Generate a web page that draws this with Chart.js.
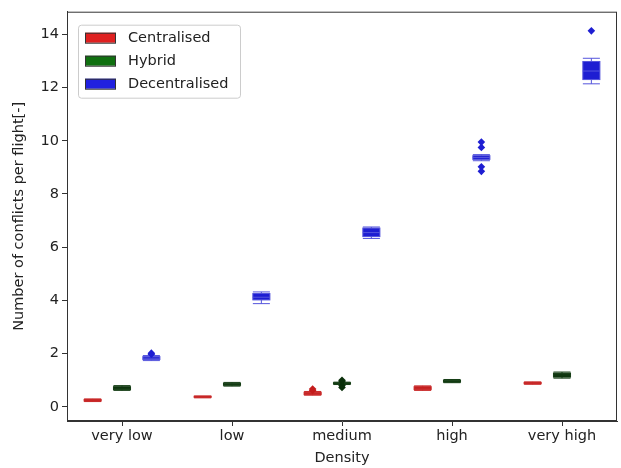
<!DOCTYPE html>
<html>
<head>
<meta charset="utf-8">
<script src="https://cdn.jsdelivr.net/npm/chart.js@4.4.1/dist/chart.umd.min.js"></script>
<style>
  html, body { margin: 0; background: #fff; }
</style>
</head>
<body>
<canvas id="chart" width="621" height="468"></canvas>
<script>
// categories and series (each box: [low whisker, q1, median, q3, high whisker])
const densities = ["very low", "low", "medium", "high", "very high"];
const seriesNames = ["Centralised", "Hybrid", "Decentralised"];

const centralised = [
  [0.20, 0.22, 0.25, 0.28, 0.30],
  [0.34, 0.36, 0.38, 0.40, 0.41],
  [0.44, 0.46, 0.50, 0.55, 0.58],
  [0.62, 0.65, 0.70, 0.76, 0.79],
  [0.85, 0.87, 0.89, 0.92, 0.94]
];
const hybrid = [
  [0.62, 0.65, 0.70, 0.76, 0.80],
  [0.78, 0.81, 0.85, 0.89, 0.92],
  [0.84, 0.86, 0.88, 0.91, 0.93],
  [0.91, 0.93, 0.97, 1.00, 1.03],
  [1.08, 1.12, 1.20, 1.27, 1.31]
];
const decentralised = [
  [1.74, 1.78, 1.83, 1.89, 1.93],
  [3.88, 4.02, 4.12, 4.26, 4.32],
  [6.33, 6.40, 6.55, 6.72, 6.76],
  [9.25, 9.30, 9.37, 9.44, 9.48],
  [12.14, 12.30, 12.62, 12.98, 13.10]
];

// outliers per density
const centralisedOut = [[], [], [0.62, 0.67], [], []];
const hybridOut = [[], [], [0.73, 0.80, 0.96, 1.00], [], []];
const decentralisedOut = [[1.98, 2.02], [], [], [8.85, 9.02, 9.75, 9.95], [14.13]];

const yTicks = [0, 2, 4, 6, 8, 10, 12, 14];

const boxes = [centralised, hybrid, decentralised];
const outliers = [centralisedOut, hybridOut, decentralisedOut];
const fills = ["#c41c1c", "#0b300b", "#1e1ed2"];
const edges = ["#c82828", "#163e16", "#5454dc"];
const legendFills = ["#df2020", "#107010", "#2020df"];
const offsets = [-0.267, 0, 0.267];
const boxW = 0.155;

const font = { family: "DejaVu Sans", size: 14.5 };

const datasets = outliers.map((out, k) => ({
  label: seriesNames[k],
  data: out.flatMap((vals, i) => vals.map(v => ({ x: i + offsets[k], y: v }))),
  backgroundColor: fills[k],
  borderWidth: 0,
  pointStyle: "rectRot",
  pointRadius: 3.8,
  pointHoverRadius: 3.8
}));

const boxPlugin = {
  id: "boxes",
  beforeDatasetsDraw(chart) {
    const { ctx, chartArea, scales: { x, y } } = chart;
    ctx.save();
    ctx.beginPath();
    ctx.rect(chartArea.left, chartArea.top, chartArea.width, chartArea.height);
    ctx.clip();
    boxes.forEach((series, k) => {
      series.forEach((st, i) => {
        const [lo, q1, med, q3, hi] = st;
        const xc = x.getPixelForValue(i + offsets[k]);
        const x0 = x.getPixelForValue(i + offsets[k] - boxW / 2);
        const x1 = x.getPixelForValue(i + offsets[k] + boxW / 2);
        const pLo = y.getPixelForValue(lo), pHi = y.getPixelForValue(hi);
        const p1 = y.getPixelForValue(q1), p3 = y.getPixelForValue(q3);
        const pm = y.getPixelForValue(med);
        ctx.strokeStyle = edges[k];
        ctx.lineWidth = 1;
        ctx.beginPath();
        ctx.moveTo(xc, p1); ctx.lineTo(xc, pLo);
        ctx.moveTo(xc, p3); ctx.lineTo(xc, pHi);
        ctx.moveTo(x0, pLo); ctx.lineTo(x1, pLo);
        ctx.moveTo(x0, pHi); ctx.lineTo(x1, pHi);
        ctx.stroke();
        ctx.fillStyle = fills[k];
        ctx.fillRect(x0, p3, x1 - x0, p1 - p3);
        ctx.strokeRect(x0, p3, x1 - x0, p1 - p3);
        ctx.beginPath();
        ctx.moveTo(x0, pm); ctx.lineTo(x1, pm);
        ctx.stroke();
      });
    });
    ctx.restore();
  },
  afterDraw(chart) {
    const { ctx, chartArea } = chart;
    ctx.save();
    // axes frame
    ctx.strokeStyle = "#333";
    ctx.lineWidth = 1;
    ctx.strokeRect(chartArea.left + 0.5, chartArea.top + 0.5, chartArea.width - 1, chartArea.height - 1);
    // legend box, upper left
    const lx = chartArea.left + 11, ly = chartArea.top + 13;
    ctx.fillStyle = "rgba(255,255,255,0.8)";
    ctx.strokeStyle = "#cccccc";
    ctx.beginPath();
    ctx.roundRect(lx + 0.5, ly + 0.5, 162, 73, 3);
    ctx.fill();
    ctx.stroke();
    ctx.font = "14.5px 'DejaVu Sans'";
    ctx.textBaseline = "middle";
    seriesNames.forEach((name, k) => {
      const ry = ly + 13 + k * 23;
      ctx.fillStyle = legendFills[k];
      ctx.fillRect(lx + 7, ry - 5, 31, 10);
      ctx.strokeStyle = "#333";
      ctx.strokeRect(lx + 7.5, ry - 4.5, 30, 10);
      ctx.fillStyle = "#222";
      ctx.fillText(name, lx + 50, ry + 1);
    });
    ctx.restore();
  }
};

new Chart(document.getElementById("chart"), {
  type: "scatter",
  data: { datasets },
  options: {
    responsive: false,
    animation: false,
    layout: { padding: { top: 10, right: 4, left: 0, bottom: 0 } },
    plugins: { legend: { display: false }, tooltip: { enabled: false } },
    scales: {
      x: {
        type: "linear",
        min: -0.5,
        max: 4.5,
        afterBuildTicks: s => { s.ticks = densities.map((d, i) => ({ value: i })); },
        afterFit: s => { s.height = 47; },
        ticks: { callback: v => densities[v], font, color: "#222", padding: 2, maxRotation: 0 },
        grid: { drawOnChartArea: false, tickLength: 5, tickColor: "#333" },
        border: { color: "#333" },
        title: { display: true, text: "Density", font, color: "#222", padding: { top: 0, bottom: 1 } }
      },
      y: {
        min: -0.53,
        max: 14.85,
        afterBuildTicks: s => { s.ticks = yTicks.map(v => ({ value: v })); },
        afterFit: s => { s.width = 67; },
        ticks: { font, color: "#222", padding: 3 },
        grid: { drawOnChartArea: false, tickLength: 5, tickColor: "#333" },
        border: { color: "#333" },
        title: { display: true, text: "Number of conflicts per flight[-]", font, color: "#222", padding: { top: 11, bottom: 0 } }
      }
    }
  },
  plugins: [boxPlugin]
});
</script>
</body>
</html>
